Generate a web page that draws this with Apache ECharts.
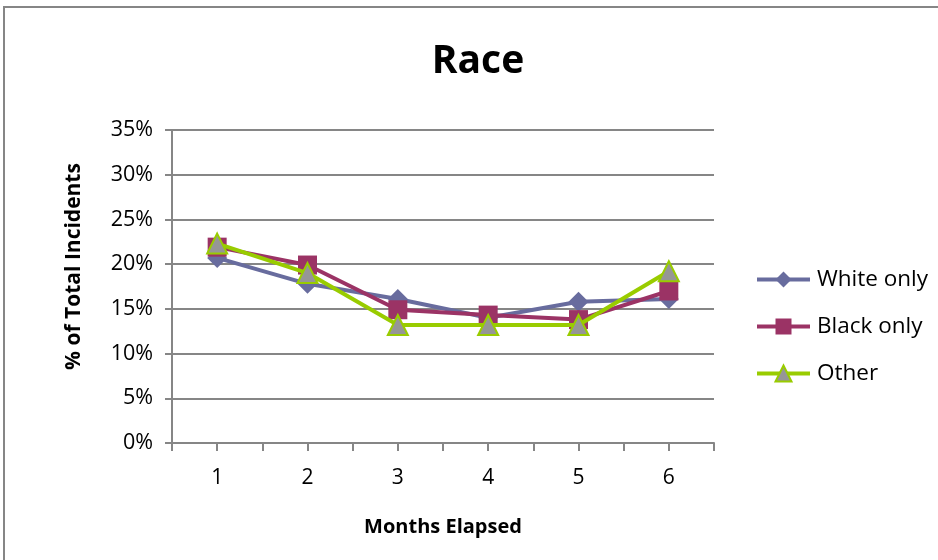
<!DOCTYPE html>
<html>
<head>
<meta charset="utf-8">
<script src="https://cdn.jsdelivr.net/npm/echarts@6/dist/echarts.min.js"></script>
<style>
  html, body { margin: 0; padding: 0; background: #fff; }
  #chart { width: 938px; height: 560px; }
</style>
</head>
<body>
<div id="chart"></div>
<script>
// Months on the horizontal axis and share of incidents (%) per group
const months = [1, 2, 3, 4, 5, 6];
const whiteOnly = [20.7, 17.8, 16.1, 14.0, 15.8, 16.1];
const blackOnly = [21.9, 19.9, 14.9, 14.3, 13.8, 17.0];
const other = [22.3, 19.0, 13.2, 13.2, 13.2, 19.2];
const yTicks = [0, 5, 10, 15, 20, 25, 30, 35];
const seriesNames = ['White only', 'Black only', 'Other'];

const FONT = '"Open Sans", Lato, sans-serif';
const GRAY = '#868686';

const pairs = vals => months.map((m, i) => [m, vals[i]]);

const chart = echarts.init(document.getElementById('chart'), null, { renderer: 'canvas' });

chart.setOption({
  animation: false,
  backgroundColor: '#ffffff',
  graphic: [{
    type: 'rect',
    shape: { x: 4, y: 7, width: 960, height: 580 },
    style: { fill: 'none', stroke: GRAY, lineWidth: 2 },
    silent: true,
    z: -1
  }],
  title: {
    text: 'Race',
    left: 473,
    top: 37,
    textAlign: 'center',
    textStyle: { fontFamily: FONT, fontWeight: 'bold', fontSize: 39, color: '#000' }
  },
  grid: { left: 172, right: 224, top: 130, bottom: 117 },
  legend: {
    orient: 'vertical',
    left: 750,
    top: 263,
    itemWidth: 53,
    itemHeight: 20,
    itemGap: 24,
    textStyle: { fontFamily: FONT, fontSize: 22.5, color: '#000', padding: [0, 0, 0, 2] },
    data: seriesNames.map(n => ({ name: n, lineStyle: { width: 4 } }))
  },
  xAxis: {
    type: 'value',
    min: 0.5,
    max: 6.5,
    interval: 0.5,
    name: 'Months Elapsed',
    nameLocation: 'middle',
    nameGap: 74,
    nameTextStyle: { fontFamily: FONT, fontWeight: 'bold', fontSize: 20, color: '#000' },
    axisLine: { lineStyle: { color: GRAY, width: 2 } },
    axisTick: { show: true, length: 8, lineStyle: { color: GRAY, width: 2 } },
    axisLabel: {
      margin: 25,
      fontFamily: FONT, fontSize: 21, color: '#000',
      formatter: v => (months.indexOf(v) >= 0 ? String(v) : '')
    },
    splitLine: { show: false }
  },
  yAxis: {
    type: 'value',
    min: yTicks[0],
    max: yTicks[yTicks.length - 1],
    interval: 5,
    name: '% of Total Incidents',
    nameLocation: 'middle',
    nameGap: 87,
    nameTextStyle: { fontFamily: FONT, fontWeight: 'bold', fontSize: 21, color: '#000', padding: [0, 0, 0, 40] },
    axisLine: { show: true, lineStyle: { color: GRAY, width: 2 } },
    axisTick: { show: true, length: 7, lineStyle: { color: GRAY, width: 2 } },
    axisLabel: { margin: 19, fontFamily: FONT, fontSize: 21.5, color: '#000', formatter: v => v + '%' },
    splitLine: { show: true, lineStyle: { color: GRAY, width: 2 } }
  },
  series: [
    {
      name: seriesNames[0],
      type: 'line',
      data: pairs(whiteOnly),
      symbol: 'diamond',
      symbolSize: 20,
      itemStyle: { color: '#686C9E' },
      lineStyle: { color: '#686C9E', width: 4 },
      z: 2
    },
    {
      name: seriesNames[1],
      type: 'line',
      data: pairs(blackOnly),
      symbol: 'rect',
      symbolSize: 19,
      itemStyle: { color: '#9B3365' },
      lineStyle: { color: '#9B3365', width: 4 },
      z: 3
    },
    {
      name: seriesNames[2],
      type: 'line',
      data: pairs(other),
      symbol: 'triangle',
      symbolSize: 20,
      itemStyle: { color: '#969696', borderColor: '#99CC00', borderWidth: 2 },
      lineStyle: { color: '#99CC00', width: 4 },
      z: 4
    }
  ]
});
</script>
</body>
</html>
